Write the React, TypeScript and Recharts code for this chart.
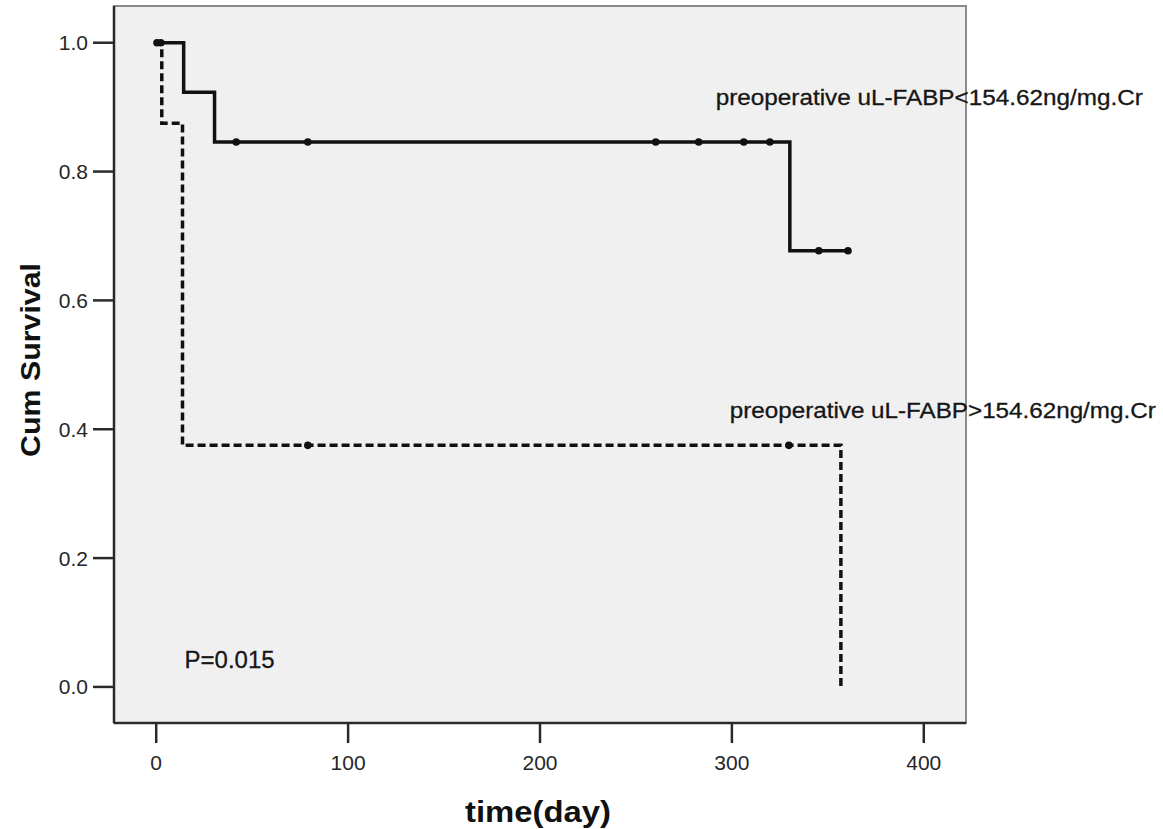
import React from "react";
import { LineChart, Line, XAxis, YAxis, ReferenceArea, ReferenceDot, Label } from "recharts";

// Low uL-FABP group (solid)
const lowTimes = [0, 0.4, 2.4, 14.3, 30.4, 41.7, 79, 260.3, 282.7, 306.2, 319.8, 330.2, 345.3, 360.5];
const lowSurvival = [1, 1, 1, 0.923, 0.846, 0.846, 0.846, 0.846, 0.846, 0.846, 0.846, 0.677, 0.677, 0.677];
const lowCensored = [0, 1, 1, 0, 0, 1, 1, 1, 1, 1, 1, 0, 1, 1];

// High uL-FABP group (dashed)
const highTimes = [0, 2.9, 13.7, 79, 329.7, 356.8];
const highSurvival = [1, 0.875, 0.375, 0.375, 0.375, 0];
const highCensored = [0, 0, 0, 1, 1, 0];

const xTicks = [0, 100, 200, 300, 400];
const yTicks = [0, 0.2, 0.4, 0.6, 0.8, 1.0];

const labelLow = "preoperative uL-FABP<154.62ng/mg.Cr";
const labelHigh = "preoperative uL-FABP>154.62ng/mg.Cr";
const pValueText = "P=0.015";

const lowData = lowTimes.map((t, i) => ({ t, s: lowSurvival[i], c: lowCensored[i] }));
const highData = highTimes.map((t, i) => ({ t, s: highSurvival[i], c: highCensored[i] }));

const X_DOMAIN: [number, number] = [-22, 422];
const Y_DOMAIN: [number, number] = [-0.056, 1.057];

const FONT = "'Liberation Sans', Arial, sans-serif";

const censorDot = (props: any) => {
  const { cx, cy, payload, index } = props;
  if (!payload || !payload.c) return <g key={`d${index}`} />;
  return <circle key={`d${index}`} cx={cx} cy={cy} r={3.8} fill="#111" stroke="none" />;
};

const makeTextLabel = (text: string, len: number, size: number) => (props: any) => {
  const vb = props.viewBox || {};
  const x = vb.cx !== undefined ? vb.cx : vb.x;
  const y = vb.cy !== undefined ? vb.cy : vb.y;
  return (
    <text
      x={x}
      y={y}
      dy="0.35em"
      textAnchor="start"
      fontFamily={FONT}
      fontSize={size}
      fill="#161616"
      stroke="#161616"
      strokeWidth={0.3}
      textLength={len}
      lengthAdjust="spacingAndGlyphs"
    >
      {text}
    </text>
  );
};

export default function App() {
  return (
    <div style={{ position: "absolute", left: 0, top: 0, background: "#fff" }}>
      <LineChart
        width={1163}
        height={829}
        margin={{ top: 6, right: 197, bottom: 46, left: 54 }}
      >
        <ReferenceArea
          x1={X_DOMAIN[0]}
          x2={X_DOMAIN[1]}
          y1={Y_DOMAIN[0]}
          y2={Y_DOMAIN[1]}
          fill="#f0f0f0"
          fillOpacity={1}
          stroke="#8a8a8a"
          strokeWidth={2}
          ifOverflow="visible"
        />
        <XAxis
          dataKey="t"
          type="number"
          domain={X_DOMAIN}
          ticks={xTicks}
          allowDataOverflow
          height={60}
          tickSize={20}
          tickMargin={12}
          axisLine={{ stroke: "#2a2a2a", strokeWidth: 2.5 }}
          tickLine={{ stroke: "#2a2a2a", strokeWidth: 2.5 }}
          tick={{ fill: "#262626", fontSize: 21, fontFamily: FONT }}
        >
          <Label
            content={() => (
              <text
                x={538}
                y={812}
                dy="0.35em"
                textAnchor="middle"
                fontFamily={FONT}
                fontWeight="bold"
                fontSize={29}
                fill="#111"
                textLength={146}
                lengthAdjust="spacingAndGlyphs"
              >
                time(day)
              </text>
            )}
          />
        </XAxis>
        <YAxis
          type="number"
          domain={Y_DOMAIN}
          ticks={yTicks}
          allowDataOverflow
          width={60}
          tickSize={21}
          tickMargin={5}
          tickFormatter={(v: number) => v.toFixed(1)}
          axisLine={{ stroke: "#2a2a2a", strokeWidth: 2.5 }}
          tickLine={{ stroke: "#2a2a2a", strokeWidth: 2.5 }}
          tick={{ fill: "#262626", fontSize: 21, fontFamily: FONT }}
        >
          <Label
            content={() => (
              <text
                x={30}
                y={360}
                dy="0.35em"
                textAnchor="middle"
                fontFamily={FONT}
                fontWeight="bold"
                fontSize={28}
                fill="#111"
                transform="rotate(-90 30 360)"
                textLength={194}
                lengthAdjust="spacingAndGlyphs"
              >
                Cum Survival
              </text>
            )}
          />
        </YAxis>
        <Line
          data={lowData}
          dataKey="s"
          type="stepAfter"
          stroke="#111"
          strokeWidth={3.5}
          dot={censorDot}
          activeDot={false}
          isAnimationActive={false}
        />
        <Line
          data={highData}
          dataKey="s"
          type="stepAfter"
          stroke="#111"
          strokeWidth={3.5}
          strokeDasharray="8 4"
          dot={censorDot}
          activeDot={false}
          isAnimationActive={false}
        />
        <ReferenceDot
          x={291.6}
          y={0.916}
          r={0}
          ifOverflow="visible"
          label={{ content: makeTextLabel(labelLow, 427, 22) }}
        />
        <ReferenceDot
          x={298.9}
          y={0.43}
          r={0}
          ifOverflow="visible"
          label={{ content: makeTextLabel(labelHigh, 426, 22) }}
        />
        <ReferenceDot
          x={14.8}
          y={0.042}
          r={0}
          ifOverflow="visible"
          label={{ content: makeTextLabel(pValueText, 90, 24) }}
        />
      </LineChart>
    </div>
  );
}
